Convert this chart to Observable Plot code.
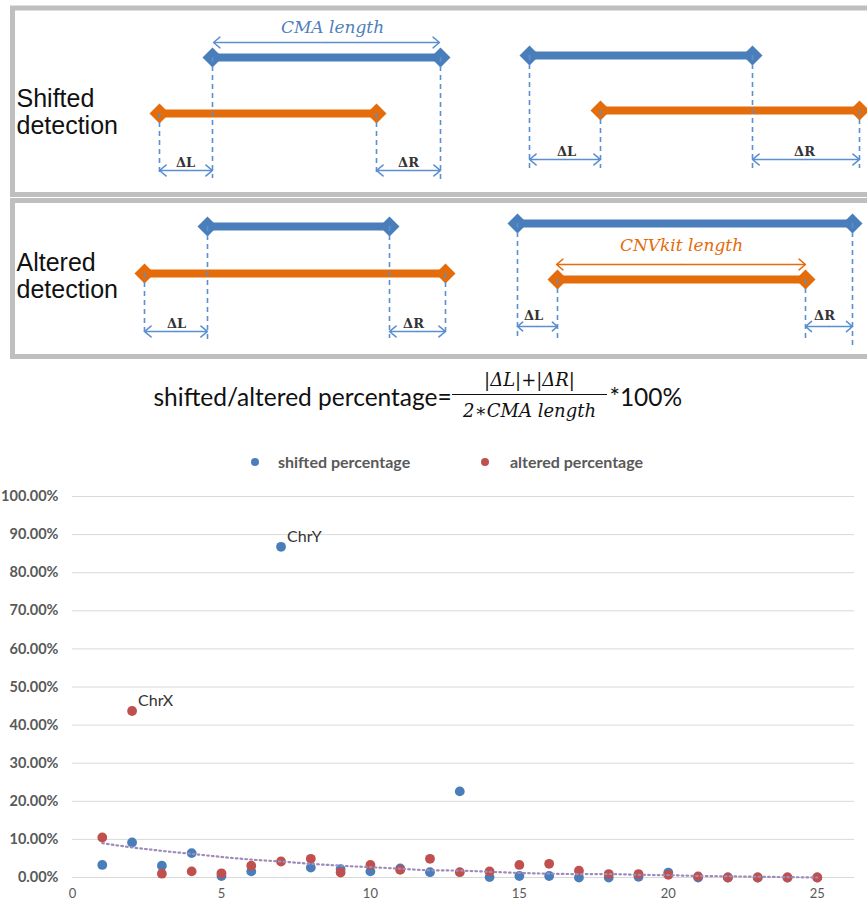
<!DOCTYPE html>
<html><head><meta charset="utf-8">
<script src="https://cdn.jsdelivr.net/npm/d3@7"></script>
<script src="https://cdn.jsdelivr.net/npm/@observablehq/plot@0.6"></script>
<style>
html,body{margin:0;padding:0;background:#fff;}
#wrap{position:relative;width:867px;height:902px;overflow:hidden;background:#fff;}
#diagram{position:absolute;left:0;top:0;}
#scatter{position:absolute;left:0;top:480px;}
#legend{position:absolute;left:0;top:451px;width:867px;height:22px;font-family:Lato,"Open Sans",sans-serif;font-weight:bold;font-size:16px;color:#595959;}
#legend .item{position:absolute;top:0;line-height:22px;white-space:nowrap;}
#legend .dot{position:absolute;top:7px;width:8px;height:8px;border-radius:50%;}
#scatter svg [aria-label="y-axis tick label"]{font-family:Lato,sans-serif;font-weight:bold;font-size:14.5px;fill:#595959;}
#scatter svg [aria-label="x-axis tick label"]{font-family:Lato,sans-serif;font-size:13px;fill:#595959;}
</style>
</head><body>
<div id="wrap">
  <div id="diagram"></div>
  <div id="legend"></div>
  <div id="scatter"></div>
</div>
<script>
// ---------------- scatter data ----------------
const chromosomes = [1,2,3,4,5,6,7,8,9,10,11,12,13,14,15,16,17,18,19,20,21,22,23,24,25];
const shiftedPct = [3.3,9.2,3.1,6.4,0.4,1.6,86.8,2.6,2.2,1.6,2.4,1.4,22.6,0.1,0.4,0.4,0.0,0.0,0.2,1.3,0.0,0.0,0.0,0.0,0.0];
const alteredPct = [10.5,43.7,1.0,1.6,1.1,3.1,4.2,4.9,1.3,3.3,2.0,4.9,1.4,1.6,3.3,3.6,1.8,0.9,0.9,0.7,0.3,0.0,0.0,0.0,0.0];
const trendPct   = [9.0,7.9,7.0,6.2,5.4,4.7,4.2,3.6,3.1,2.7,2.3,1.9,1.8,1.5,1.2,1.0,0.9,0.9,0.7,0.6,0.4,0.3,0.2,0.1,0.0];
const pointLabels = [
  {series: "shifted", chrom: 7, text: "ChrY"},
  {series: "altered", chrom: 2, text: "ChrX"}
];
const xTicks = [0,5,10,15,20,25];
const yTicks = [0,10,20,30,40,50,60,70,80,90,100];
const legendLabels = ["shifted percentage", "altered percentage"];
const seriesColors = {shifted: "#4a7ebb", altered: "#c0504d"};

// ---------------- diagram data (page pixel units) ----------------
const panelBoxes = [
  {x1: 12.5, y1: 8, x2: 885, y2: 194.5},
  {x1: 12.5, y1: 200.5, x2: 885, y2: 356.5}
];
const panelText = [
  {x: 16, y: 98, text: "Shifted"}, {x: 16, y: 125, text: "detection"},
  {x: 16, y: 262, text: "Altered"}, {x: 16, y: 289, text: "detection"}
];
const cmaBars = [
  {x1: 212, x2: 440, y: 57},
  {x1: 529, x2: 752, y: 55},
  {x1: 207, x2: 389, y: 226},
  {x1: 517, x2: 852, y: 223}
];
const cnvBars = [
  {x1: 159, x2: 376, y: 113},
  {x1: 600, x2: 859, y: 110},
  {x1: 144, x2: 445, y: 273},
  {x1: 557, x2: 805, y: 279}
];
const guides = [
  {x: 159, y1: 113, y2: 176}, {x: 212, y1: 57, y2: 178}, {x: 376, y1: 113, y2: 176}, {x: 440, y1: 57, y2: 180},
  {x: 529, y1: 55, y2: 168}, {x: 600, y1: 110, y2: 168}, {x: 752, y1: 55, y2: 168}, {x: 859, y1: 110, y2: 168},
  {x: 144, y1: 273, y2: 333}, {x: 207, y1: 226, y2: 342}, {x: 389, y1: 226, y2: 338}, {x: 445, y1: 273, y2: 336},
  {x: 517, y1: 223, y2: 338}, {x: 557, y1: 279, y2: 342}, {x: 805, y1: 279, y2: 342}, {x: 852, y1: 223, y2: 345}
];
const deltaArrows = [
  {x1: 159, x2: 212, y: 170, text: "ΔL", tx: 185, ty: 162},
  {x1: 376, x2: 440, y: 170, text: "ΔR", tx: 408, ty: 162},
  {x1: 529, x2: 600, y: 159, text: "ΔL", tx: 566, ty: 151},
  {x1: 752, x2: 859, y: 159, text: "ΔR", tx: 804, ty: 151},
  {x1: 144, x2: 207, y: 331, text: "ΔL", tx: 176, ty: 323},
  {x1: 389, x2: 445, y: 331, text: "ΔR", tx: 413, ty: 323},
  {x1: 517, x2: 557, y: 326, text: "ΔL", tx: 533, ty: 315},
  {x1: 805, x2: 852, y: 326, text: "ΔR", tx: 824, ty: 315}
];
const lengthArrows = [
  {x1: 213, x2: 439, y: 42, text: "CMA length", tx: 332, ty: 27, color: "#5b8fd0", tcolor: "#4f7fba"},
  {x1: 556, x2: 805, y: 264, text: "CNVkit length", tx: 681, ty: 245, color: "#e46c0a", tcolor: "#e46c0a"}
];
const formula = {
  lead: "shifted/altered percentage=", leadX: 153, leadY: 398,
  num: "|ΔL|+|ΔR|", den: "2∗CMA length", fracX: 529, numY: 380, denY: 411,
  barX1: 452, barX2: 607, barY: 394,
  tail: "*100%", tailX: 609, tailY: 398
};

const blue = "#4a7ebb", orange = "#e46c0a", guideBlue = "#5b8fd0";

// double-headed arrows from midpoint
function halves(arr) {
  const out = [];
  for (const a of arr) {
    const m = (a.x1 + a.x2) / 2;
    out.push({x1: m, x2: a.x1, y: a.y, color: a.color || guideBlue});
    out.push({x1: m, x2: a.x2, y: a.y, color: a.color || guideBlue});
  }
  return out;
}
const ends = bars => bars.flatMap(b => [{x: b.x1, y: b.y}, {x: b.x2, y: b.y}]);

const diagram = Plot.plot({
  width: 867, height: 440, margin: 0,
  x: {domain: [0, 867], range: [0, 867], axis: null},
  y: {domain: [0, 440], range: [0, 440], axis: null},
  style: {background: "#fff"},
  marks: [
    Plot.rect(panelBoxes, {x1: "x1", x2: "x2", y1: "y1", y2: "y2", fill: "none", stroke: "#bfbfbf", strokeWidth: 5}),
    Plot.text(panelText, {x: "x", y: "y", text: "text", textAnchor: "start", fontSize: 25, fontFamily: "Liberation Sans, Arial, sans-serif", fill: "#111"}),
    Plot.ruleY(cmaBars, {y: "y", x1: "x1", x2: "x2", stroke: blue, strokeWidth: 8}),
    Plot.ruleY(cnvBars, {y: "y", x1: "x1", x2: "x2", stroke: orange, strokeWidth: 8}),
    Plot.dot(ends(cmaBars), {x: "x", y: "y", symbol: "diamond2", r: 9, fill: blue, stroke: "none"}),
    Plot.dot(ends(cnvBars), {x: "x", y: "y", symbol: "diamond2", r: 9, fill: orange, stroke: "none"}),
    Plot.ruleX(guides, {x: "x", y1: "y1", y2: "y2", stroke: guideBlue, strokeWidth: 1.6, strokeDasharray: "5,4"}),
    Plot.arrow(halves(deltaArrows), {x1: "x1", x2: "x2", y1: "y", y2: "y", stroke: "color", strokeWidth: 1.6, headLength: 8, headAngle: 80}),
    Plot.arrow(halves(lengthArrows), {x1: "x1", x2: "x2", y1: "y", y2: "y", stroke: "color", strokeWidth: 1.4, headLength: 9, headAngle: 80}),
    Plot.text(deltaArrows, {x: "tx", y: "ty", text: "text", fontSize: 13, fontWeight: "bold", fontFamily: "DejaVu Serif, serif", fill: "#333"}),
    Plot.text(lengthArrows, {x: "tx", y: "ty", text: "text", fill: "tcolor", fontSize: 17, fontStyle: "italic", fontFamily: "DejaVu Serif, serif"}),
    Plot.text([formula], {x: "leadX", y: "leadY", text: "lead", textAnchor: "start", fontSize: 24.5, fontFamily: "Lato, sans-serif", fill: "#111"}),
    Plot.text([formula], {x: "fracX", y: "numY", text: "num", fontSize: 18, fontStyle: "italic", fontFamily: "DejaVu Serif, serif", fill: "#111"}),
    Plot.text([formula], {x: "fracX", y: "denY", text: "den", fontSize: 18, fontStyle: "italic", fontFamily: "DejaVu Serif, serif", fill: "#111"}),
    Plot.ruleY([formula], {y: "barY", x1: "barX1", x2: "barX2", stroke: "#111", strokeWidth: 1}),
    Plot.text([formula], {x: "tailX", y: "tailY", text: "tail", textAnchor: "start", fontSize: 24.5, fontFamily: "Lato, sans-serif", fill: "#111"})
  ]
});
document.getElementById("diagram").appendChild(diagram);

// ---------------- legend ----------------
const legend = document.getElementById("legend");
const legendPos = [{dot: 255, text: 278, key: "shifted"}, {dot: 485, text: 510, key: "altered"}];
legendLabels.forEach((lab, i) => {
  const p = legendPos[i];
  const d = document.createElement("span");
  d.className = "dot"; d.style.left = (p.dot - 4) + "px"; d.style.background = seriesColors[p.key];
  legend.appendChild(d);
  const t = document.createElement("span");
  t.className = "item"; t.style.left = p.text + "px"; t.textContent = lab;
  legend.appendChild(t);
});

// ---------------- scatter ----------------
const shiftedRows = chromosomes.map((c, i) => ({chrom: c, pct: shiftedPct[i]}));
const alteredRows = chromosomes.map((c, i) => ({chrom: c, pct: alteredPct[i]}));
const trendRows = chromosomes.map((c, i) => ({chrom: c, pct: trendPct[i]}));
const labelRows = pointLabels.map(l => ({
  chrom: l.chrom,
  pct: (l.series === "shifted" ? shiftedPct : alteredPct)[chromosomes.indexOf(l.chrom)],
  text: l.text
}));

const scatter = Plot.plot({
  width: 867, height: 422,
  marginTop: 16, marginBottom: 25, marginLeft: 72, marginRight: 13,
  style: {background: "#fff", fontFamily: "Lato, sans-serif", overflow: "visible"},
  x: {domain: [0, 26.25]},
  y: {domain: [0, 100]},
  marks: [
    Plot.gridY(yTicks, {stroke: "#d9d9d9", strokeOpacity: 1, strokeWidth: 1}),
    Plot.axisY(yTicks, {tickSize: 0, tickPadding: 14, tickFormat: d => d.toFixed(2) + "%", label: null, fontSize: 14.5, fontWeight: "bold", fill: "#595959"}),
    Plot.axisX(xTicks, {tickSize: 0, tickPadding: 11, label: null, fontSize: 13, fill: "#595959"}),
    Plot.dot(shiftedRows, {x: "chrom", y: "pct", r: 4.9, fill: seriesColors.shifted, stroke: "none"}),
    Plot.dot(alteredRows, {x: "chrom", y: "pct", r: 4.9, fill: seriesColors.altered, stroke: "none"}),
    Plot.line(trendRows, {x: "chrom", y: "pct", stroke: "#9d8bbb", strokeWidth: 2.2, strokeDasharray: "1.6,3.2", curve: "monotone-x"}),
    Plot.text(labelRows, {x: "chrom", y: "pct", text: "text", textAnchor: "start", dx: 6, dy: -10, fontSize: 16, fill: "#333", fontFamily: "Lato, sans-serif"})
  ]
});
document.getElementById("scatter").appendChild(scatter);
</script>
</body></html>
